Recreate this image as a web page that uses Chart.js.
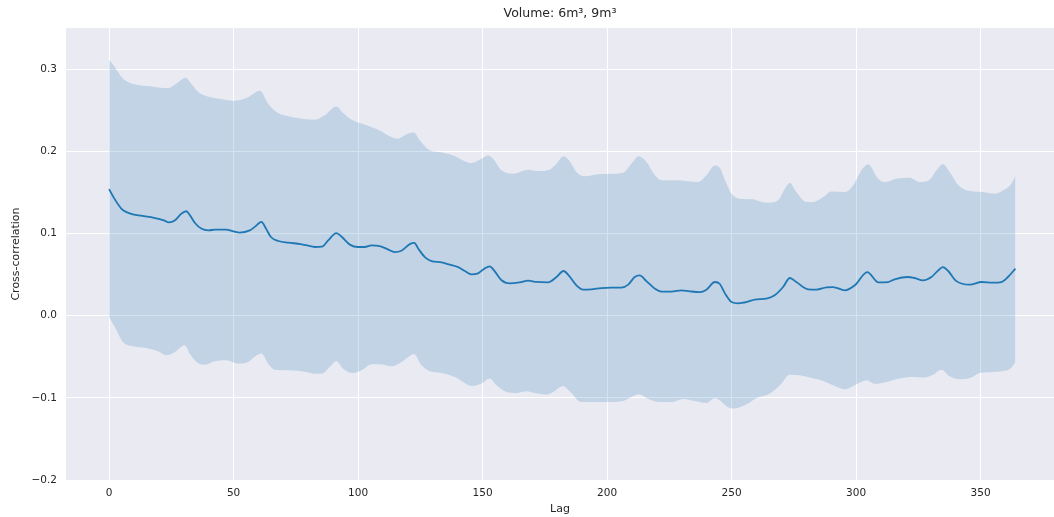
<!DOCTYPE html>
<html>
<head>
<meta charset="utf-8">
<script src="https://cdn.jsdelivr.net/npm/chart.js@4.4.1/dist/chart.umd.min.js"></script>
<style>
html,body{margin:0;padding:0;background:#ffffff;}
#wrap{width:1054px;height:517px;}
</style>
</head>
<body>
<div id="wrap"><canvas id="c" width="1054" height="517"></canvas></div>
<script>
const chartTitle = 'Volume: 6m\u00B3, 9m\u00B3';
const xAxisLabel = 'Lag';
const yAxisLabel = 'Cross-correlation';
const xTickValues = [0, 50, 100, 150, 200, 250, 300, 350];
const yTickValues = [-0.2, -0.1, 0.0, 0.1, 0.2, 0.3];

const meanLags = [0,2,5,7,10,14,18,22,24,26.5,29,31,32.5,34.5,37,40,42.5,47,50,52.5,56.5,58.5,61.2,63,65,68,72,77,80,82.5,85.5,88,91.3,93.5,96.7,100,102.7,105.4,108.7,112,114.7,117.4,120.8,122.6,124.2,126.8,129.5,133.5,136.8,140.2,142.9,145.5,148.2,150.9,152.9,154.9,157.6,160.9,164.9,168.3,171.6,176.3,179.7,182.5,185,187.7,190.4,193.7,197.7,201.8,205.8,208.5,211.1,213.1,215.8,219.2,221.8,225.9,229.9,233.2,237.2,239.9,243.3,245.3,247.3,250,252.6,256.6,259.3,264,267.3,270.7,273.4,276,280.7,284.1,288.1,290.8,295.5,299.5,304.5,309,312.9,315.5,320.9,323.5,326.9,330.3,332.3,334.9,337,340.3,345.7,350.4,355,358.4,361,364];
const meanValues = [0.154,0.143,0.130,0.126,0.123,0.121,0.119,0.116,0.1135,0.116,0.124,0.127,0.122,0.1127,0.106,0.1038,0.1046,0.1046,0.1025,0.101,0.1037,0.108,0.114,0.106,0.0957,0.0908,0.0888,0.0871,0.0851,0.0835,0.0839,0.0916,0.1005,0.0957,0.0864,0.0835,0.0835,0.0855,0.0847,0.0807,0.0774,0.079,0.087,0.0885,0.0815,0.0713,0.0664,0.0648,0.062,0.0591,0.0543,0.0502,0.0515,0.0575,0.060,0.0539,0.043,0.0393,0.0405,0.0426,0.041,0.0405,0.047,0.0543,0.0475,0.0369,0.0316,0.032,0.0336,0.0341,0.0341,0.0377,0.047,0.049,0.042,0.0328,0.0292,0.0292,0.0308,0.0296,0.0287,0.0316,0.0409,0.0385,0.0274,0.0166,0.015,0.017,0.0195,0.0207,0.0247,0.0348,0.0458,0.0409,0.032,0.0316,0.0344,0.0348,0.0308,0.0369,0.053,0.0405,0.0409,0.0442,0.047,0.0458,0.043,0.047,0.053,0.0591,0.0543,0.042,0.0377,0.0409,0.0401,0.0409,0.047,0.0572];

const upperLags = [0,2.3,5,7.6,11,16.3,20.4,23.7,27,30.8,32.4,35.8,40.4,45.8,50.5,55.2,58.5,60.5,63.9,67.2,71.9,77.3,82.6,86.6,91.3,94,97.4,102.7,108.7,113.4,116.1,119.4,122.4,124.8,128.1,132.8,138.2,142.2,145.5,148.9,152.2,154.2,157.6,162.2,168.3,172.3,176.3,179.7,182.5,185,187.7,191,196.4,201.8,206.4,209.8,212.7,215.8,219.2,221.8,227.2,232.5,236.6,239.9,243.3,245.3,247.3,250,253.3,258.6,261.3,265.3,268.7,271.4,273.4,276,280.1,282.7,286.8,290.1,295.5,298.8,302.2,304.8,308.8,311.5,316.2,321.6,325.6,329.6,332.3,334.9,337.6,340.9,345.7,351,355.7,359,362.4,364];
const upperValues = [0.3114,0.3025,0.2903,0.2842,0.281,0.279,0.2774,0.2769,0.2822,0.2895,0.2842,0.272,0.2659,0.2631,0.2615,0.2647,0.271,0.2735,0.2579,0.2477,0.2425,0.2397,0.2384,0.2437,0.2546,0.2465,0.2384,0.2324,0.2254,0.2173,0.2153,0.2206,0.2228,0.2133,0.2023,0.199,0.195,0.1889,0.1857,0.1898,0.195,0.191,0.1768,0.1727,0.1776,0.1759,0.1768,0.1849,0.1938,0.188,0.1747,0.1695,0.1719,0.1727,0.174,0.1849,0.1938,0.1869,0.1707,0.1646,0.1646,0.1634,0.1625,0.1707,0.1828,0.1795,0.1655,0.1484,0.1423,0.1415,0.139,0.1375,0.1403,0.1545,0.1613,0.1504,0.1382,0.1382,0.1443,0.1512,0.1504,0.1585,0.1768,0.1841,0.167,0.1625,0.1667,0.1679,0.1625,0.1654,0.1768,0.1841,0.1747,0.1594,0.1516,0.1504,0.1484,0.1524,0.1606,0.1695];

const lowerLags = [0,2.3,5.6,9.7,15,19.7,23,26.4,30.4,32.4,35.1,38.4,42.4,47.1,51.8,55.8,58.5,61.2,63.9,66.5,71.9,77.3,82.6,85.3,88.6,91.3,94,98,101.4,105.4,108.7,113.4,117.4,120.8,122.4,125.5,128.8,133.5,138.8,142.2,145.5,149.5,152.9,155.6,159.6,163.6,167.6,171,175.6,178.3,182.3,185,189.7,196.4,201.8,206.4,209.8,212.7,216.4,221.2,225.9,230.6,235.3,239.9,243.3,245.3,248,250.6,256,260,265.3,269.4,273.4,277.4,281.4,286.8,290.8,295.5,300.2,304.2,307.5,312.2,316.9,322.9,326.9,330.9,334.3,337.6,341.6,345.7,349.7,355,359,362.4,364];
const lowerValues = [-0.0017,-0.0139,-0.0321,-0.0373,-0.0394,-0.0434,-0.0483,-0.0443,-0.0361,-0.0462,-0.0564,-0.0597,-0.0556,-0.0544,-0.0584,-0.0564,-0.050,-0.0462,-0.0584,-0.0657,-0.0665,-0.0678,-0.0706,-0.0706,-0.0625,-0.0552,-0.0645,-0.0698,-0.0665,-0.0592,-0.0592,-0.0617,-0.0564,-0.049,-0.0466,-0.0605,-0.0678,-0.0698,-0.0747,-0.0807,-0.0856,-0.0827,-0.0766,-0.0848,-0.0929,-0.0941,-0.0921,-0.0941,-0.0961,-0.0929,-0.0855,-0.092,-0.1051,-0.1051,-0.1051,-0.1039,-0.099,-0.0957,-0.101,-0.1051,-0.1051,-0.1014,-0.1039,-0.1063,-0.1002,-0.103,-0.1103,-0.1131,-0.1079,-0.1002,-0.0949,-0.0848,-0.0718,-0.0726,-0.0754,-0.0796,-0.0848,-0.0897,-0.0836,-0.0787,-0.083,-0.0807,-0.0767,-0.0747,-0.0754,-0.0718,-0.0657,-0.0738,-0.0775,-0.0759,-0.0698,-0.0686,-0.0674,-0.0633,-0.0564];

const toPts = (xs, ys) => xs.map((x, i) => ({x: x, y: ys[i]}));

const textColor = '#262626';
const fontFamily = "'DejaVu Sans', 'Liberation Sans', sans-serif";

const bgPlugin = {
  id: 'plotBg',
  beforeDraw(chart) {
    const a = chart.chartArea;
    const ctx = chart.ctx;
    ctx.save();
    ctx.fillStyle = '#EAEAF2';
    ctx.fillRect(a.left, a.top, a.right - a.left, a.bottom - a.top);
    ctx.restore();
  }
};

const fmtY = v => {
  const s = Math.abs(v) < 1e-9 ? '0.0' : v.toFixed(1);
  return s.replace('-', '\u2212');
};

new Chart(document.getElementById('c'), {
  type: 'line',
  data: {
    datasets: [
      {
        label: 'mean',
        data: toPts(meanLags, meanValues),
        borderColor: '#1f77b4',
        borderWidth: 1.8,
        pointRadius: 0,
        fill: false,
        cubicInterpolationMode: 'monotone'
      },
      {
        label: 'upper',
        data: toPts(upperLags, upperValues),
        borderColor: 'rgba(0,0,0,0)',
        borderWidth: 0,
        pointRadius: 0,
        backgroundColor: 'rgba(31,119,180,0.2)',
        fill: 2,
        cubicInterpolationMode: 'monotone'
      },
      {
        label: 'lower',
        data: toPts(lowerLags, lowerValues),
        borderColor: 'rgba(0,0,0,0)',
        borderWidth: 0,
        pointRadius: 0,
        fill: false,
        cubicInterpolationMode: 'monotone'
      }
    ]
  },
  options: {
    responsive: false,
    devicePixelRatio: 1,
    animation: false,
    layout: { padding: 0 },
    plugins: {
      legend: { display: false },
      tooltip: { enabled: false },
      title: {
        display: true,
        text: chartTitle,
        color: textColor,
        fullSize: false,
        font: { family: fontFamily, size: 12.5, weight: 'normal' },
        padding: { top: 6, bottom: 7 }
      }
    },
    scales: {
      x: {
        type: 'linear',
        min: -17.3,
        max: 379.5,
        afterBuildTicks(scale) { scale.ticks = xTickValues.map(v => ({value: v})); },
        afterFit(scale) { scale.height = 37; },
        grid: { color: '#ffffff', lineWidth: 1, drawTicks: false },
        border: { display: false },
        ticks: {
          color: textColor,
          padding: 7,
          maxRotation: 0,
          font: { family: fontFamily, size: 10.5 },
          callback: v => String(v)
        },
        title: {
          display: true,
          text: xAxisLabel,
          color: textColor,
          font: { family: fontFamily, size: 11 },
          padding: { top: 0, bottom: 1.5 }
        }
      },
      y: {
        type: 'linear',
        min: -0.2,
        max: 0.35,
        afterBuildTicks(scale) { scale.ticks = yTickValues.map(v => ({value: v})); },
        afterFit(scale) { scale.width = 66; },
        grid: { color: '#ffffff', lineWidth: 1, drawTicks: false },
        border: { display: false },
        ticks: {
          color: textColor,
          padding: 9,
          font: { family: fontFamily, size: 10.5 },
          callback: v => fmtY(v)
        },
        title: {
          display: true,
          text: yAxisLabel,
          color: textColor,
          font: { family: fontFamily, size: 11 },
          padding: { top: 10, bottom: 0 }
        }
      }
    }
  },
  plugins: [bgPlugin]
});
</script>
</body>
</html>
